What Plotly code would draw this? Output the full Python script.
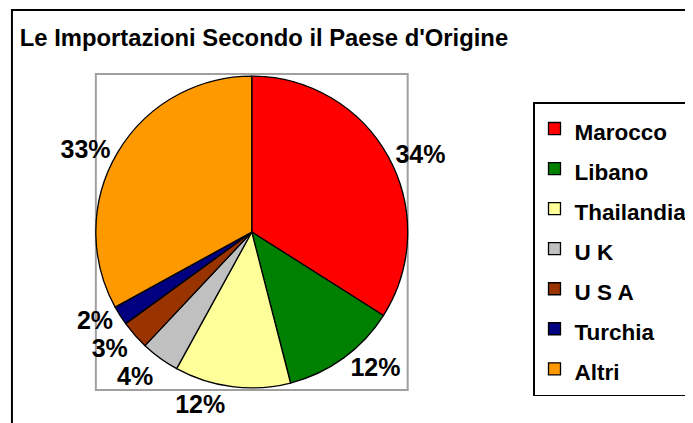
import plotly.graph_objects as go

# ---- data ----
categories = ["Marocco", "Libano", "Thailandia", "U K", "U S A", "Turchia", "Altri"]
values = [34, 12, 12, 4, 3, 2, 33]
colors = ["#FF0000", "#008000", "#FFFF99", "#C0C0C0", "#993300", "#000080", "#FF9900"]
title_text = "Le Importazioni Secondo il Paese d'Origine"

# the page body has an 8px margin, so the figure starts at (8, 8) of the window
OFF = 8
FW, FH = 693 - OFF, 423 - OFF
FONT = "Liberation Sans, Arial, sans-serif"


def px(x):
    return (x - OFF) / FW


def py(y):
    return 1 - (y - OFF) / FH


# pie domain (paper fractions)
dom_x = [px(97), px(413)]
dom_y = [py(390), py(74)]

legend_labels = [f"<span style='font-size:22.5px'>{c}</span>" for c in categories]

fig = go.Figure(
    go.Pie(
        labels=legend_labels,
        values=values,
        sort=False,
        direction="clockwise",
        rotation=0,
        marker=dict(colors=colors, line=dict(color="black", width=1.3)),
        texttemplate="<span style='color:black;fill-opacity:1'>%{percent:.0%}</span>",
        textposition="outside",
        outsidetextfont=dict(family=FONT, size=25, color="rgba(0,0,0,0)", weight="bold"),
        domain=dict(x=dom_x, y=dom_y),
        automargin=False,
        hoverinfo="label+percent",
    )
)

fig.update_layout(
    width=FW,
    height=FH,
    margin=dict(l=0, r=0, t=0, b=0),
    paper_bgcolor="white",
    plot_bgcolor="white",
    title=dict(
        text=title_text,
        x=px(20),
        xanchor="left",
        xref="paper",
        y=py(38),
        yanchor="middle",
        yref="paper",
        font=dict(family=FONT, size=23.8, color="black", weight="bold"),
    ),
    legend=dict(
        x=px(540),
        xanchor="left",
        y=py(102),
        yanchor="top",
        bordercolor="black",
        borderwidth=1.5,
        bgcolor="white",
        font=dict(family=FONT, size=28.5, color="black", weight="bold"),
        traceorder="normal",
    ),
    shapes=[
        # gray plot-area frame around the pie
        dict(type="rect", xref="paper", yref="paper",
             x0=dom_x[0], x1=dom_x[1], y0=dom_y[0], y1=dom_y[1],
             line=dict(color="#A0A0A0", width=2), layer="below"),
        # outer chart border
        dict(type="rect", xref="paper", yref="paper",
             x0=px(12), x1=1.2, y0=-0.2, y1=py(10),
             line=dict(color="black", width=2), layer="below"),
    ],
)

fig.write_html("out.html")
